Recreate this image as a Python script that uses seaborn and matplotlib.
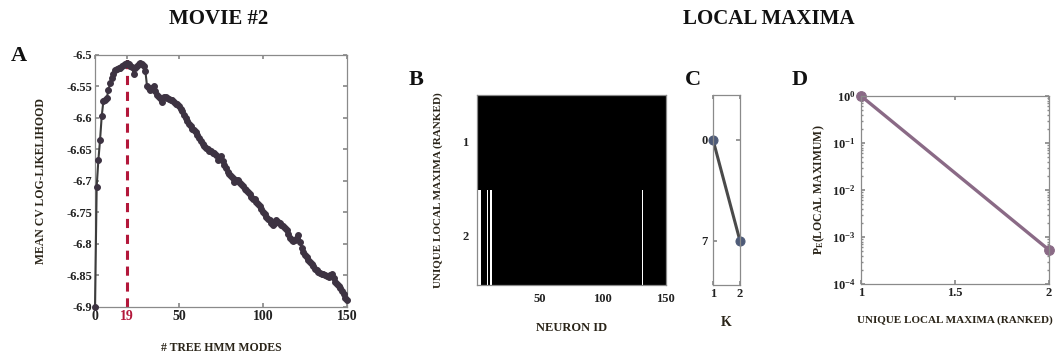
import numpy as np
import pandas as pd
import matplotlib
matplotlib.use("Agg")
import matplotlib.pyplot as plt
import seaborn as sns
from matplotlib.colors import ListedColormap

# ---------------- data ----------------
modes = list(range(0, 151))
mean_cv_ll = [
    -6.900, -6.709, -6.667, -6.635, -6.597, -6.573, -6.572, -6.569, -6.555, -6.545,
    -6.537, -6.530, -6.524, -6.523, -6.521, -6.520, -6.518, -6.516, -6.515, -6.513,
    -6.515, -6.517, -6.519, -6.530, -6.521, -6.517, -6.515, -6.513, -6.515, -6.517,
    -6.526, -6.550, -6.553, -6.556, -6.552, -6.549, -6.557, -6.564, -6.567, -6.570,
    -6.574, -6.567, -6.566, -6.569, -6.570, -6.571, -6.572, -6.575, -6.577, -6.578,
    -6.581, -6.585, -6.589, -6.595, -6.600, -6.604, -6.609, -6.613, -6.617, -6.619,
    -6.622, -6.627, -6.631, -6.637, -6.641, -6.645, -6.648, -6.650, -6.652, -6.653,
    -6.655, -6.656, -6.659, -6.667, -6.663, -6.660, -6.668, -6.675, -6.680, -6.685,
    -6.689, -6.692, -6.696, -6.701, -6.699, -6.698, -6.701, -6.704, -6.708, -6.712,
    -6.715, -6.717, -6.721, -6.725, -6.728, -6.729, -6.733, -6.736, -6.739, -6.744,
    -6.749, -6.753, -6.757, -6.760, -6.762, -6.766, -6.770, -6.766, -6.762, -6.765,
    -6.767, -6.770, -6.772, -6.775, -6.778, -6.784, -6.791, -6.794, -6.796, -6.793,
    -6.790, -6.786, -6.797, -6.807, -6.812, -6.817, -6.821, -6.825, -6.828, -6.831,
    -6.835, -6.839, -6.842, -6.844, -6.846, -6.847, -6.848, -6.849, -6.851, -6.852,
    -6.849, -6.847, -6.854, -6.860, -6.863, -6.866, -6.870, -6.874, -6.880, -6.885,
    -6.889,
]
best_mode = 19
a_xticks = [0, 19, 50, 100, 150]
a_yticks = [-6.9, -6.85, -6.8, -6.75, -6.7, -6.65, -6.6, -6.55, -6.5]

n_neurons = 150
maxima_labels = ["1", "2"]
off_neurons_row2 = [1, 2, 3, 9, 11, 12, 132]   # neurons inactive in local maximum 2
b_xticks = [50, 100, 150]

k_x = [1, 2]
k_y = [0, 7]

rank_x = [1, 2]
p_local_max = [1.0, 5.3e-4]

# ---------------- style ----------------
sns.set_theme(style="white")
plt.rcParams["font.family"] = ["Liberation Serif", "DejaVu Serif"]
plt.rcParams["mathtext.fontset"] = "custom"
plt.rcParams["mathtext.rm"] = "Liberation Serif:bold"
plt.rcParams["mathtext.it"] = "Liberation Serif:bold"
plt.rcParams["mathtext.bf"] = "Liberation Serif:bold"

SPINE = "#8a8a8a"
TICKC = "#222222"
LABC = "#2a2418"
TICKFS = 9
LABFS = 8.5
LABFONT = "Liberation Serif"

fig = plt.figure(figsize=(10.61, 3.56), dpi=100)
W, H = 1061, 356


def box(l, t, r, b):
    return [l / W, 1 - b / H, (r - l) / W, (b - t) / H]


def style_ax(ax, top_right_ticks=True):
    for s in ax.spines.values():
        s.set_visible(True)
        s.set_color(SPINE)
        s.set_linewidth(0.9)
    ax.tick_params(axis="both", which="both", direction="in", length=3,
                   color=SPINE, labelsize=TICKFS, labelcolor=TICKC, pad=2,
                   top=top_right_ticks, right=top_right_ticks,
                   bottom=True, left=True)
    for t in ax.get_xticklabels() + ax.get_yticklabels():
        t.set_fontweight("bold")


# ---------------- Panel A ----------------
axA = fig.add_axes(box(95, 55, 347, 307))
dfA = pd.DataFrame({"modes": modes, "ll": mean_cv_ll})
axA.axvline(best_mode, color="#b3173a", lw=2.2, ls=(0, (3, 2.2)), zorder=1)
sns.lineplot(data=dfA, x="modes", y="ll", ax=axA, color="#3c3c3c", lw=1.5,
             marker="o", markersize=4.2, markerfacecolor="#3d3342",
             markeredgecolor="#3d3342", zorder=3)
for l in axA.lines:
    l.set_clip_on(False)
axA.set_xlim(0, 150)
axA.set_ylim(-6.9, -6.5)
axA.set_xticks(a_xticks)
axA.set_xticklabels([str(v) for v in a_xticks])
axA.set_yticks(a_yticks)
axA.set_yticklabels([f"{v:g}" for v in a_yticks])
style_ax(axA)
axA.tick_params(axis="x", labelsize=10)
for t in axA.get_xticklabels():
    if t.get_text() == str(best_mode):
        t.set_color("#b3173a")
axA.set_xlabel("# TREE HMM MODES", fontsize=LABFS, color=LABC,
               family=LABFONT, weight="bold", labelpad=14)
axA.set_ylabel("MEAN CV LOG-LIKELIHOOD", fontsize=LABFS, color=LABC,
               family=LABFONT, weight="bold", labelpad=14)

# ---------------- Panel B ----------------
axB = fig.add_axes(box(477, 95, 666, 285))
mat = np.ones((2, n_neurons))
for n in off_neurons_row2:
    mat[1, n - 1] = 0
dfB = pd.DataFrame(mat, index=maxima_labels,
                   columns=[str(i) for i in range(1, n_neurons + 1)])
sns.heatmap(dfB, ax=axB, cmap=ListedColormap(["white", "black"]), vmin=0,
            vmax=1, cbar=False)
axB.set_xticks([v - 0.5 for v in b_xticks])
axB.set_xticklabels([str(v) for v in b_xticks], rotation=0)
axB.set_yticks([0.5, 1.5])
axB.set_yticklabels(maxima_labels, rotation=0)
style_ax(axB, top_right_ticks=False)
axB.tick_params(length=0, pad=6)
axB.set_xlabel("NEURON ID", fontsize=LABFS + 0.5, color=LABC, family=LABFONT,
               weight="bold", labelpad=12)
axB.set_ylabel("UNIQUE LOCAL MAXIMA (RANKED)", fontsize=8, color=LABC,
               family=LABFONT, weight="bold", labelpad=14)

# ---------------- Panel C ----------------
axC = fig.add_axes(box(713, 95, 740, 285))
sns.lineplot(x=k_x, y=k_y, ax=axC, color="#4a4a4a", lw=2.2, marker="o",
             markersize=6.5, markerfacecolor="#4e5b78",
             markeredgecolor="#4e5b78")
for l in axC.lines:
    l.set_clip_on(False)
axC.set_xlim(1, 2)
axC.set_ylim(10.05, -3.1)
axC.set_xticks(k_x)
axC.set_xticklabels([str(v) for v in k_x])
axC.set_yticks(k_y)
axC.set_yticklabels([str(v) for v in k_y])
style_ax(axC)
axC.tick_params(axis="y", pad=4)
axC.set_xlabel("K", fontsize=LABFS + 1.5, color=LABC, family=LABFONT,
               weight="bold", labelpad=12)

# ---------------- Panel D ----------------
axD = fig.add_axes(box(861, 96, 1049, 284))
sns.lineplot(x=rank_x, y=p_local_max, ax=axD, color="#8a6a86", lw=2.4,
             marker="o", markersize=7, markerfacecolor="#8a6a86",
             markeredgecolor="#8a6a86")
for l in axD.lines:
    l.set_clip_on(False)
axD.set_yscale("log")
axD.set_ylim(1e-4, 1.0)
axD.set_xlim(1, 2)
axD.set_xticks([1, 1.5, 2])
axD.set_xticklabels(["1", "1.5", "2"])
axD.set_yticks([1e-4, 1e-3, 1e-2, 1e-1, 1e0])
axD.set_yticklabels([r"$10^{-4}$", r"$10^{-3}$", r"$10^{-2}$", r"$10^{-1}$",
                     r"$10^{0}$"])
style_ax(axD)
axD.tick_params(axis="y", which="major", pad=4)
axD.tick_params(which="minor", length=1.5)
axD.set_xlabel("UNIQUE LOCAL MAXIMA (RANKED)", fontsize=8, color=LABC,
               family=LABFONT, weight="bold", labelpad=12)
axD.set_ylabel(r"P$_\mathregular{E}$(LOCAL MAXIMUM)", fontsize=LABFS,
               color=LABC, family=LABFONT, weight="bold", labelpad=3)

# ---------------- titles & panel letters ----------------
fig.text(219 / W, 1 - 19 / H, "MOVIE #2", ha="center", va="center",
         fontsize=15, weight="bold", family=LABFONT, color="#111111")
fig.text(769 / W, 1 - 19 / H, "LOCAL MAXIMA", ha="center", va="center",
         fontsize=15, weight="bold", family=LABFONT, color="#111111")
for letter, x, y in [("A", 19, 56), ("B", 416, 80), ("C", 693, 80),
                     ("D", 800, 80)]:
    fig.text(x / W, 1 - y / H, letter, ha="center", va="center",
             fontsize=16, weight="bold", family=LABFONT, color="#111111")

fig.savefig("out.png", dpi=100)
